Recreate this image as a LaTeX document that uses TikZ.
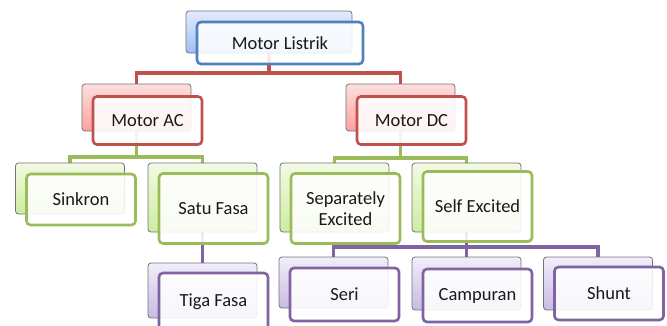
\documentclass[tikz,border=0pt]{standalone}
\usepackage{fontspec}
\setmainfont{Carlito}
\usetikzlibrary{backgrounds}
\definecolor{blueline}{RGB}{79,129,189}
\definecolor{redline}{RGB}{192,80,77}
\definecolor{greenline}{RGB}{155,187,89}
\definecolor{purpleline}{RGB}{128,100,162}
\definecolor{blueT}{RGB}{228,236,252}
\definecolor{blueB}{RGB}{160,190,242}
\definecolor{redT}{RGB}{252,222,222}
\definecolor{redB}{RGB}{255,160,160}
\definecolor{greenT}{RGB}{242,250,228}
\definecolor{greenB}{RGB}{206,236,160}
\definecolor{purpleT}{RGB}{242,238,250}
\definecolor{purpleB}{RGB}{200,186,228}
\begin{document}
\begin{tikzpicture}[x=1pt, y=-1pt,
back/.style={rectangle, rounded corners=3pt, draw=black!55, line width=0.8pt,
minimum width=109pt, minimum height=51pt},
front/.style={rectangle, rounded corners=4pt, line width=2.6pt, fill=white,
fill opacity=0.88, text opacity=1, text=black!90, align=center,
font=\fontsize{18.5}{21}\selectfont, minimum width=109pt, minimum height=51pt},
back-blue/.style={back, top color=blueT, bottom color=blueB},
back-red/.style={back, top color=redT, bottom color=redB},
back-green/.style={back, top color=greenT, bottom color=greenB},
back-purple/.style={back, top color=purpleT, bottom color=purpleB},
front-blue/.style={front, draw=blueline},
front-red/.style={front, draw=redline},
front-green/.style={front, draw=greenline},
front-purple/.style={front, draw=purpleline},
link/.style={line width=3.5pt}
]
\useasboundingbox (0,0) rectangle (667,325);
\clip (0,0) rectangle (667,325);

% level 0
\node [back-blue, minimum width=166pt, minimum height=42pt] (listrik-b) at (269,32) {};
\node [front-blue, minimum width=166pt, minimum height=42pt] (listrik) at ([shift={(11,11)}]listrik-b.center) {Motor Listrik};

% level 1
\node [back-red, minimum height=47pt] (motorac-b) at (136.5,107.5) {};
\node [front-red, minimum height=48pt] (motorac) at ([shift={(11,13)}]motorac-b.center) {Motor AC};
\node [back-red, minimum height=47pt] (motordc-b) at (400.5,107.5) {};
\node [front-red, minimum height=48pt] (motordc) at ([shift={(11,13)}]motordc-b.center) {Motor DC};

% level 2
\node [back-green] (sinkron-b) at (70,188.5) {};
\node [front-green] (sinkron) at ([shift={(11,11)}]sinkron-b.center) {Sinkron};
\node [back-green, minimum height=69pt] (satufasa-b) at (202.5,197.5) {};
\node [front-green, minimum height=70pt] (satufasa) at ([shift={(11,11)}]satufasa-b.center) {Satu Fasa};
\node [back-green, minimum height=69pt] (separately-b) at (334.5,197.5) {};
\node [front-green, minimum height=70pt] (separately) at ([shift={(11,11)}]separately-b.center) {Separately\\Excited};
\node [back-green, minimum height=69pt] (selfexc-b) at (466.5,197.5) {};
\node [front-green, minimum height=70pt] (selfexc) at ([shift={(11,9)}]selfexc-b.center) {Self Excited};

% level 3
\node [back-purple, minimum height=55pt] (tigafasa-b) at (202.5,290.5) {};
\node [front-purple, minimum height=57pt] (tigafasa) at ([shift={(11,11)}]tigafasa-b.center) {Tiga Fasa};
\node [back-purple] (seri-b) at (333.5,282.5) {};
\node [front-purple, minimum height=53pt] (seri) at ([shift={(11,12)}]seri-b.center) {Seri};
\node [back-purple, minimum height=53pt] (campuran-b) at (466.5,283.5) {};
\node [front-purple, minimum height=53pt] (campuran) at ([shift={(11,12)}]campuran-b.center) {Campuran};
\node [back-purple, minimum height=53pt] (shunt-b) at (598,283.5) {};
\node [front-purple, minimum height=53pt] (shunt) at ([shift={(11,10)}]shunt-b.center) {Shunt};

% connectors
\coordinate (bus-red) at (0,73);
\coordinate (bus-ac) at (0,157);
\coordinate (bus-dc) at (0,158);
\coordinate (bus-se) at (0,247);
\begin{pgfonlayer}{background}
\draw [link, redline] (listrik-b.center) -- (listrik-b |- bus-red) -| (motorac-b.north);
\draw [link, redline] (listrik-b |- bus-red) -| (motordc-b.north);
\draw [link, greenline] (motorac-b.center) -- (motorac-b |- bus-ac) -| (sinkron-b.north);
\draw [link, greenline] (motorac-b |- bus-ac) -| (satufasa-b.north);
\draw [link, greenline] (motordc-b.center) -- (motordc-b |- bus-dc) -| (separately-b.north);
\draw [link, greenline] (motordc-b |- bus-dc) -| (selfexc-b.north);
\draw [link, purpleline] (satufasa-b.center) -- (tigafasa-b.north);
\draw [link, purpleline] (selfexc-b.center) -- (selfexc-b |- bus-se) -| (seri-b.north);
\draw [link, purpleline] (selfexc-b |- bus-se) -| (campuran-b.north);
\draw [link, purpleline] (selfexc-b |- bus-se) -| (shunt-b.north);
\end{pgfonlayer}
\end{tikzpicture}
\end{document}
